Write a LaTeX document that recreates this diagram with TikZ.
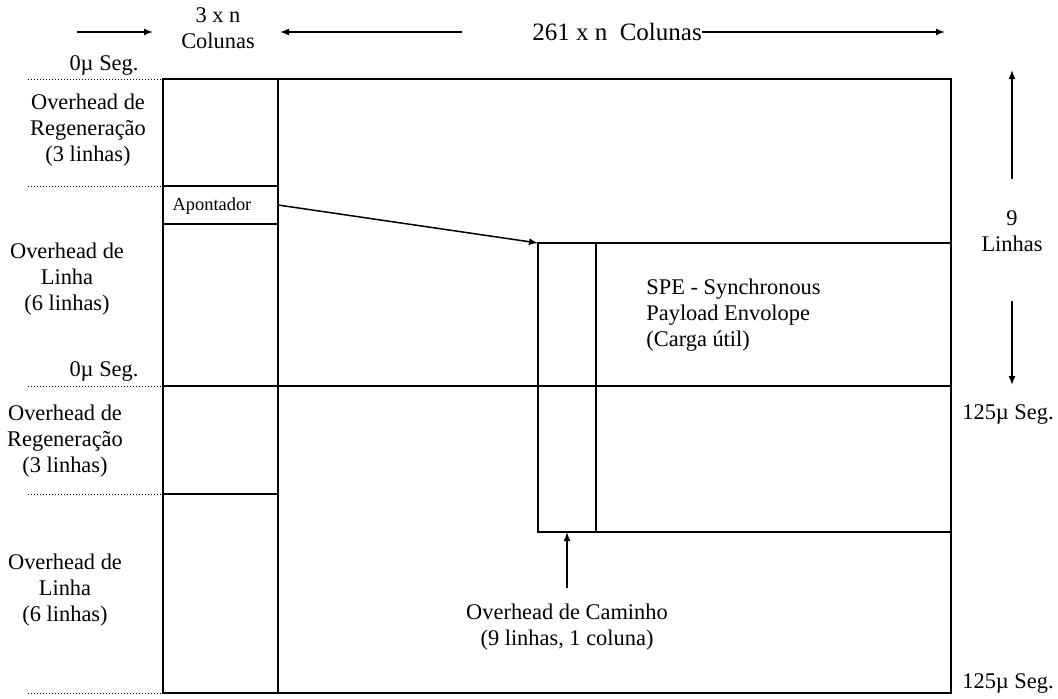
\documentclass[tikz,border=0pt]{standalone}
\usepackage{fontspec}
\setmainfont{Liberation Serif}
\usepackage{tikz}
\usetikzlibrary{arrows.meta}
\usetikzlibrary{positioning}
\tikzstyle{frame} = [line width=1pt]
\tikzstyle{dots} = [densely dotted, line width=0.5pt]
\tikzstyle{label} = [align=center, inner sep=0pt, font=\fontsize{11.2}{13}\selectfont]
\tikzstyle{small} = [inner sep=0pt, font=\fontsize{9.2}{11}\selectfont]
\tikzstyle{arrow} = [line width=0.75pt, -{Latex[length=4.5pt,width=3.5pt]}]

\begin{document}
\begin{tikzpicture}[x=0.5pt, y=-0.5pt]
        \useasboundingbox (0,0) rectangle (1058,698);
        % frame of the STM-n
        \draw [frame] (163,79) rectangle (951,693);
        \draw [frame] (278,79) -- (278,693);
        \draw [frame] (163,386) -- (951,386);
        \draw [frame] (163,186) -- (278,186);
        \draw [frame] (163,224) -- (278,224);
        \draw [frame] (163,494) -- (278,494);
        % SPE
        \draw [frame] (538,243) rectangle (951,532);
        \draw [frame] (596,243) -- (596,532);
        \coordinate (speCorner) at (538,243);
        \coordinate (speBottom) at (567,532);

        % time marks
        \foreach \y in {79,186,386,494,693}
            \draw [dots] (28,\y) -- (163,\y);
        \node (zeroA) [label] at (104,65) {0µ Seg.};
        \node (zeroB) [label] at (104,371) {0µ Seg.};
        \node (endA) [label] at (1008,414) {125µ Seg.};
        \node (endB) [label] at (1008,683) {125µ Seg.};

        % row labels
        \node (regenA) [label] at (88,130) {Overhead de\\Regeneração\\(3 linhas)};
        \node (linhaA) [label] at (67,279) {Overhead de\\Linha\\(6 linhas)};
        \node (regenB) [label] at (65,441) {Overhead de\\Regeneração\\(3 linhas)};
        \node (linhaB) [label] at (65,590) {Overhead de\\Linha\\(6 linhas)};

        % column labels
        \node (colsSoh) [label] at (218,28) {3 x n\\Colunas};
        \node (colsSpe) [label, font=\fontsize{12.5}{14}\selectfont] at (617,32) {261 x n\ \ Colunas};
        \coordinate (sohL) at (77,32);
        \coordinate (sohLend) at (153,32);
        \coordinate (sohR) at (462,32);
        \coordinate (sohRend) at (280,32);
        \coordinate (speEnd) at (945,32);
        \draw [arrow] (sohL) -- (sohLend);
        \draw [arrow] (sohR) -- (sohRend);
        \draw [arrow] (colsSpe.east) -- (speEnd);

        % rows
        \node (linhas) [label] at (1012,231) {9\\Linhas};
        \coordinate (linhasTop) at (1012,70);
        \coordinate (linhasBot) at (1012,385);
        \draw [arrow] (linhas.north) ++(0,-31) -- (linhasTop);
        \draw [arrow] (linhas.south) ++(0,49) -- (linhasBot);

        % pointer and payload
        \node (apont) [small] at (212,206) {Apontador};
        \draw [arrow] (278,205) -- (speCorner);
        \node (payload) [label, align=left, anchor=west] at (646,315) {SPE - Synchronous\\Payload Envolope\\(Carga útil)};
        \node (caminho) [label] at (567,627) {Overhead de Caminho\\(9 linhas, 1 coluna)};
        \draw [arrow] (caminho.north) ++(0,-15) -- (speBottom);
    \end{tikzpicture}
\end{document}
